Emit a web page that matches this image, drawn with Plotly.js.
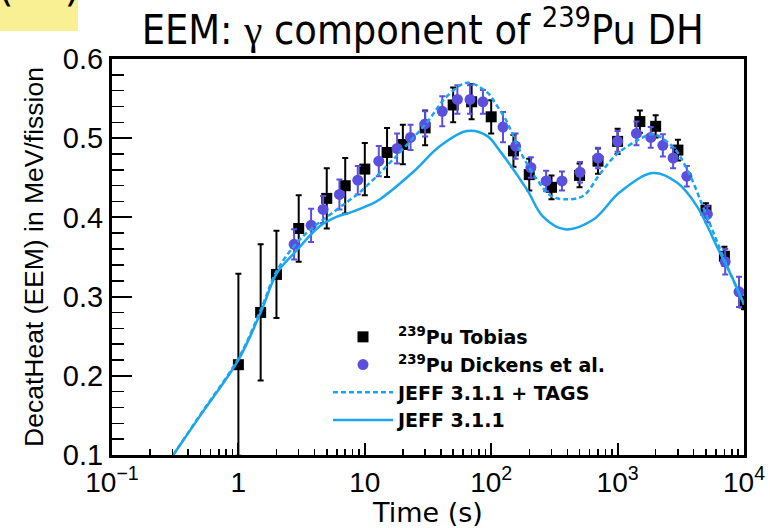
<!DOCTYPE html>
<html>
<head>
<meta charset="utf-8">
<script src="https://cdn.plot.ly/plotly-3.0.1.min.js"></script>
<style>html,body{margin:0;padding:0;background:#fff;}#chart{width:770px;height:528px;}</style>
</head>
<body>
<div id="chart"></div>
<script>
// Tobias data (black squares)
const tobiasTime = [1, 1.5, 2, 3, 5, 7, 10, 15, 20, 30, 50, 70, 100, 150, 200, 300, 500, 700, 1000, 1500, 2000, 3000, 5000, 7000, 10000];
const tobiasDH   = [0.214, 0.280, 0.328, 0.386, 0.424, 0.440, 0.461, 0.482, 0.492, 0.513, 0.542, 0.546, 0.527, 0.484, 0.454, 0.438, 0.453, 0.471, 0.496, 0.521, 0.515, 0.485, 0.409, 0.351, 0.292];
const tobiasErr  = [0.115, 0.086, 0.055, 0.042, 0.038, 0.035, 0.033, 0.031, 0.025, 0.022, 0.022, 0.022, 0.021, 0.020, 0.020, 0.015, 0.015, 0.016, 0.016, 0.014, 0.014, 0.013, 0.009, 0.012, 0.008];

// Dickens et al. data (purple circles)
const dickensTime = [2.76, 3.76, 4.68, 6.3, 8.8, 12.9, 18, 23, 30, 41, 54, 68, 86, 124, 156, 206, 272, 363, 504, 700, 1000, 1410, 1830, 2280, 2750, 3530, 5130, 7100, 9130];
const dickensDH   = [0.366, 0.390, 0.410, 0.429, 0.447, 0.471, 0.487, 0.501, 0.518, 0.534, 0.549, 0.549, 0.546, 0.514, 0.490, 0.463, 0.446, 0.446, 0.457, 0.475, 0.496, 0.506, 0.501, 0.491, 0.475, 0.452, 0.404, 0.344, 0.306];
const dickensErr  = [0.019, 0.021, 0.017, 0.019, 0.018, 0.019, 0.019, 0.016, 0.016, 0.019, 0.018, 0.018, 0.015, 0.019, 0.016, 0.013, 0.013, 0.012, 0.013, 0.013, 0.013, 0.015, 0.013, 0.014, 0.013, 0.013, 0.010, 0.016, 0.019];

// JEFF 3.1.1 + TAGS (dashed)
const tagsTime = [0.305, 0.5, 1, 1.51, 2.02, 3.24, 6.03, 9.16, 16.7, 31.0, 44.7, 64.4, 92.7, 111, 134, 149, 178, 230, 292, 370, 532, 726, 989, 1504, 1905, 2740, 3540, 5090, 6820, 10000];
const tagsDH   = [0.100, 0.151, 0.222, 0.284, 0.333, 0.376, 0.410, 0.432, 0.473, 0.520, 0.553, 0.570, 0.558, 0.541, 0.520, 0.503, 0.477, 0.448, 0.428, 0.423, 0.427, 0.455, 0.480, 0.499, 0.505, 0.489, 0.461, 0.401, 0.351, 0.290];

// JEFF 3.1.1 (solid)
const jeffTime = [0.305, 0.5, 1, 1.51, 2.02, 2.80, 4.42, 6.03, 7.64, 11.0, 13.2, 24.0, 39.4, 64.4, 92.7, 117, 192, 257, 384, 639, 1044, 1905, 2950, 4250, 6110, 8180, 10000];
const jeffDH   = [0.100, 0.150, 0.220, 0.281, 0.330, 0.356, 0.389, 0.401, 0.406, 0.416, 0.423, 0.457, 0.490, 0.509, 0.503, 0.484, 0.435, 0.401, 0.385, 0.397, 0.432, 0.456, 0.444, 0.414, 0.363, 0.322, 0.290];

const xTickVals = [0.1, 1, 10, 100, 1000, 10000];
const xTickText = ['10<sup>\u22121</sup>', '1', '10', '10<sup>2</sup>', '10<sup>3</sup>', '10<sup>4</sup>'];
const yTickVals = [0.1, 0.2, 0.3, 0.4, 0.5, 0.6];
const yTickText = ['0.1', '0.2', '0.3', '0.4', '0.5', '0.6'];

const blue = '#1aa6ef';
const purple = '#5b4fdd';

const traces = [
  {
    x: tobiasTime, y: tobiasDH, type: 'scatter', mode: 'markers',
    name: '<sup>239</sup>Pu Tobias',
    marker: {symbol: 'square', size: 11, color: '#000'},
    error_y: {type: 'data', array: tobiasErr, visible: true, color: '#000', thickness: 2, width: 3}
  },
  {
    x: dickensTime, y: dickensDH, type: 'scatter', mode: 'markers',
    name: '<sup>239</sup>Pu Dickens et al.',
    marker: {symbol: 'circle', size: 11, color: purple},
    error_y: {type: 'data', array: dickensErr, visible: true, color: purple, thickness: 2, width: 3}
  },
  {
    x: tagsTime, y: tagsDH, type: 'scatter', mode: 'lines',
    name: 'JEFF 3.1.1 + TAGS',
    line: {color: blue, width: 2.5, dash: '5px,3px', shape: 'spline', smoothing: 1}
  },
  {
    x: jeffTime, y: jeffDH, type: 'scatter', mode: 'lines',
    name: 'JEFF 3.1.1',
    line: {color: blue, width: 2.5, shape: 'spline', smoothing: 1}
  }
];

const layout = {
  width: 770, height: 528,
  margin: {l: 112, r: 26, t: 59, b: 73},
  paper_bgcolor: '#fff', plot_bgcolor: '#fff',
  font: {family: 'Liberation Sans, Arial, sans-serif', color: '#000'},
  showlegend: true,
  title: {
    text: 'EEM: <span style="font-family:Liberation Serif">\u03b3</span> component of <sup>239</sup>Pu DH',
    font: {family: 'DejaVu Sans Condensed, DejaVu Sans, sans-serif', size: 41, color: '#000'},
    x: 0.549, xanchor: 'center', y: 0.944, yanchor: 'middle'
  },
  xaxis: {
    type: 'log', range: [-1, 4],
    tickvals: xTickVals, ticktext: xTickText,
    ticks: 'inside', ticklen: 12, tickwidth: 2, tickcolor: '#000',
    minor: {ticks: 'inside', ticklen: 6, tickwidth: 1.5, tickcolor: '#000', dtick: 'D1', showgrid: false},
    showline: true, linewidth: 3, linecolor: '#000', mirror: true,
    showgrid: false, zeroline: false,
    tickfont: {size: 28, family: 'Liberation Sans, Arial, sans-serif'},
    title: {text: 'Time (s)', font: {size: 27, family: 'DejaVu Sans, sans-serif'}, standoff: 0}
  },
  yaxis: {
    range: [0.1, 0.6],
    tickvals: yTickVals, ticktext: yTickText,
    ticks: 'inside', ticklen: 20, tickwidth: 2, tickcolor: '#000',
    minor: {ticks: 'inside', ticklen: 12, tickwidth: 1.5, tickcolor: '#000', dtick: 0.02, showgrid: false},
    showline: true, linewidth: 3, linecolor: '#000', mirror: true,
    showgrid: false, zeroline: false,
    tickfont: {size: 29, family: 'Liberation Sans, Arial, sans-serif'},
    title: {text: 'DecatHeat (EEM) in MeV/fission', font: {size: 26.5}, standoff: 12}
  },
  legend: {
    x: (328 - 112) / 632, y: (455 - 318) / 396, xanchor: 'left', yanchor: 'top',
    bgcolor: 'rgba(0,0,0,0)', borderwidth: 0,
    font: {size: 19, family: 'DejaVu Sans, sans-serif', weight: 'bold'},
    itemwidth: 60, tracegroupgap: 0
  },
  shapes: [
    {type: 'rect', xref: 'paper', yref: 'paper',
     x0: (0 - 112) / 632, x1: (78 - 112) / 632, y0: (455 - 31) / 396, y1: (455 + 2) / 396,
     fillcolor: '#f9ef93', line: {width: 0}, layer: 'above'}
  ],
  annotations: [
    {xref: 'paper', yref: 'paper', x: (39 - 112) / 632, y: (455 - 12) / 396,
     xanchor: 'center', yanchor: 'bottom', showarrow: false,
     text: '(&nbsp;&nbsp;&nbsp;&nbsp;)', font: {size: 40, family: 'DejaVu Sans, sans-serif', color: '#000'}}
  ]
};

Plotly.newPlot('chart', traces, layout, {displayModeBar: false, staticPlot: true});
</script>
</body>
</html>
